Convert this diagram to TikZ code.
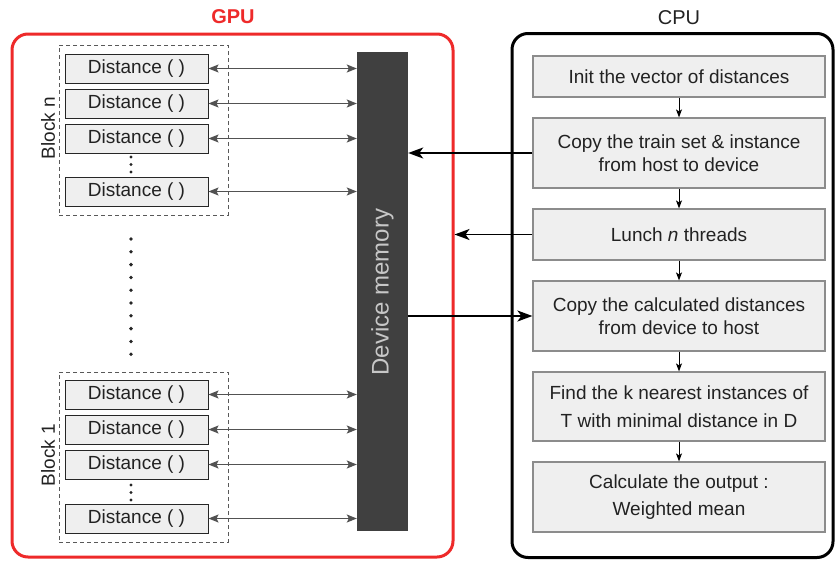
\documentclass[tikz,border=0pt]{standalone}
\usepackage{fontspec}
\setmainfont{Liberation Sans}
\usetikzlibrary{arrows.meta}
\definecolor{boxgray}{HTML}{EFEFEF}
\definecolor{memgray}{HTML}{404040}
\definecolor{gpured}{HTML}{EE2A2A}
\definecolor{inktext}{HTML}{222222}
\begin{document}
\begin{tikzpicture}[x=1pt,y=-1pt,
  lbl/.style={font=\fontsize{19}{22}\selectfont, text=inktext},
  distbox/.style={draw=black!85, fill=boxgray, line width=1pt, minimum width=143pt,
    minimum height=29pt, inner sep=0pt, lbl},
  cpubox/.style={draw=black!45, fill=boxgray, line width=1.2pt, minimum width=292pt,
    inner sep=0pt, align=center, lbl},
  blockframe/.style={draw=black!65, dash pattern=on 4pt off 3pt, line width=1pt,
    minimum width=169pt, minimum height=170pt, inner sep=0pt},
  dblarrow/.style={draw=black!68, line width=1.2pt,
    {Stealth[length=10pt,width=8pt,inset=2pt]}-{Stealth[length=10pt,width=8pt,inset=2pt]}},
  bigarrow/.style={draw=black, line width=1.9pt, -{Stealth[length=15pt,width=11pt,inset=4pt]}},
  steparrow/.style={draw=black, line width=1pt, -{Stealth[length=8pt,width=6pt,inset=2pt]}},
  dot/.style={fill=black!85}
]
\useasboundingbox (0,0) rectangle (835,562);

% outer frames
\node (gpu) [draw=gpured, line width=3pt, rounded corners=16pt, minimum width=441pt,
  minimum height=523pt, inner sep=0pt] at (232.5,295.5) {};
\node (cpu) [draw=black, line width=3pt, rounded corners=16pt, minimum width=321pt,
  minimum height=524pt, inner sep=0pt] at (672.5,295.5) {};
\node (gputitle) [font=\bfseries\fontsize{20}{22}\selectfont, text=gpured] at (233,17) {GPU};
\node (cputitle) [font=\fontsize{20}{22}\selectfont, text=inktext] at (679,18) {CPU};

% device memory
\node (mem) [fill=memgray, minimum width=51pt, minimum height=479pt, inner sep=0pt] at (382.5,291.5) {};
\node (memtext) [rotate=90, font=\fontsize{24}{26}\selectfont, text=black!22] at (382.5,292) {Device memory};

% block n
\node (bn) [blockframe] at (143.5,130) {};
\node (bnlabel) [rotate=90, lbl] at (48,128) {Block n};
\node (n1) [distbox] at (136.5,68.5) {Distance ( )};
\node (n2) [distbox] at (136.5,103.5) {Distance ( )};
\node (n3) [distbox] at (136.5,138.5) {Distance ( )};
\node (n4) [distbox] at (136.5,191.5) {Distance ( )};
\foreach \yy in {157,164.5,172} \fill[dot] (131,\yy) circle (1.7pt);

% block 1
\node (b1) [blockframe] at (143.5,457) {};
\node (b1label) [rotate=90, lbl] at (48,455) {Block 1};
\node (m1) [distbox] at (136.5,394.5) {Distance ( )};
\node (m2) [distbox] at (136.5,429.5) {Distance ( )};
\node (m3) [distbox] at (136.5,464.5) {Distance ( )};
\node (m4) [distbox] at (136.5,518.5) {Distance ( )};
\foreach \yy in {485,492.5,500} \fill[dot] (131,\yy) circle (1.7pt);

% blocks in between
\foreach \i in {0,...,9} \fill[dot] (131,239+12.8*\i) circle (1.9pt);

% thread <-> memory transfers
\foreach \d in {n1,n2,n3,n4,m1,m2,m3,m4}
  \draw[dblarrow] (\d.east) -- (\d.east -| mem.west);

% host steps
\node (c1) [cpubox, minimum height=41pt] at (679,76.5) {Init the vector of distances};
\node (c2) [cpubox, minimum height=70pt, font=\fontsize{19}{23.5}\selectfont] at (679,153)
  {Copy the train set \& instance\\from host to device};
\node (c3) [cpubox, minimum height=51pt] at (679,234.5) {Lunch \textit{n} threads};
\node (c4) [cpubox, minimum height=70pt, font=\fontsize{19}{23.5}\selectfont] at (679,316)
  {Copy the calculated distances\\from device to host};
\node (c5) [cpubox, minimum height=69pt, font=\fontsize{19}{28}\selectfont] at (679,406.5)
  {Find the k nearest instances of\\T with minimal distance in D};
\node (c6) [cpubox, minimum height=70pt, font=\fontsize{19}{27}\selectfont] at (679,497)
  {Calculate the output :\\Weighted mean};

\draw[steparrow] (c1) -- (c2);
\draw[steparrow] (c2) -- (c3);
\draw[steparrow] (c3) -- (c4);
\draw[steparrow] (c4) -- (c5);
\draw[steparrow] (c5) -- (c6);

% host <-> device transfers
\draw[bigarrow] (c2.west) -- (c2.west -| mem.east);
\draw[bigarrow] (c3.west) -- (c3.west -| gpu.east);
\draw[bigarrow] (c4.west -| mem.east) -- (c4.west);
\end{tikzpicture}
\end{document}
